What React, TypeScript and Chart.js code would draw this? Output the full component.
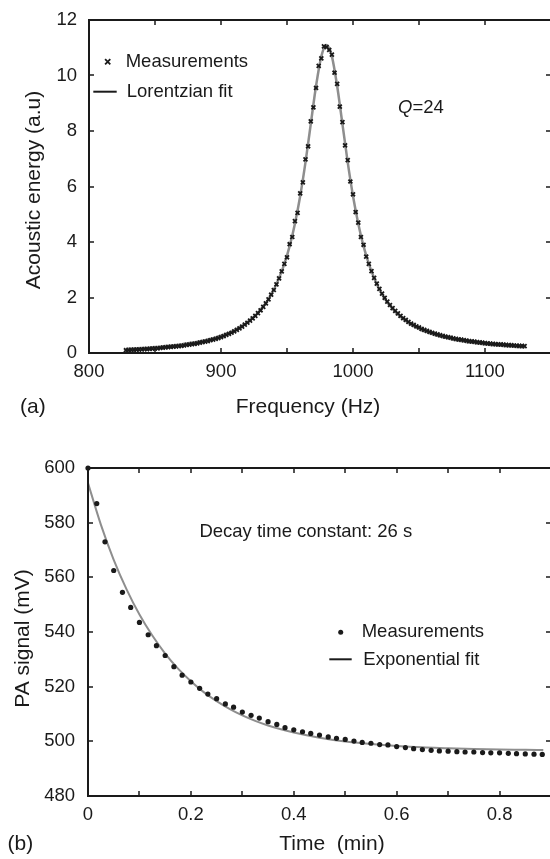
import React, { useEffect, useRef } from "react";
import { Chart, registerables } from "chart.js";

Chart.register(...registerables);

const FONT = '"Liberation Sans", Arial, Helvetica, sans-serif';
const INK = "#1a1a1a";
const FIT_GRAY = "#8e8e8e";

// ---------- (a) resonance curve ----------
const FREQ_MEAS = [
  828, 830, 832, 834, 836, 838, 840, 842, 844, 846, 848, 850, 852, 854, 856, 858, 860, 862, 864, 866,
  868, 870, 872, 874, 876, 878, 880, 882, 884, 886, 888, 890, 892, 894, 896, 898, 900, 902, 904, 906,
  908, 910, 912, 914, 916, 918, 920, 922, 924, 926, 928, 930, 932, 934, 936, 938, 940, 942, 944, 946,
  948, 950, 952, 954, 956, 958, 960, 962, 964, 966, 968, 970, 972, 974, 976, 978,
  980, 982, 984, 986, 988, 990, 992, 994, 996, 998, 1000, 1002, 1004, 1006, 1008, 1010, 1012, 1014, 1016, 1018,
  1020, 1022, 1024, 1026, 1028, 1030, 1032, 1034, 1036, 1038, 1040, 1042, 1044, 1046, 1048, 1050, 1052, 1054, 1056, 1058,
  1060, 1062, 1064, 1066, 1068, 1070, 1072, 1074, 1076, 1078, 1080, 1082, 1084, 1086, 1088, 1090, 1092, 1094, 1096, 1098,
  1100, 1102, 1104, 1106, 1108, 1110, 1112, 1114, 1116, 1118, 1120, 1122, 1124, 1126, 1128, 1130,
];
const ENERGY_MEAS = [
  0.10, 0.10, 0.11, 0.11, 0.12, 0.125, 0.13, 0.14, 0.14, 0.15,
  0.16, 0.165, 0.17, 0.18, 0.19, 0.20, 0.21, 0.22, 0.23, 0.24,
  0.25, 0.26, 0.27, 0.29, 0.30, 0.32, 0.33, 0.35, 0.37, 0.39,
  0.41, 0.43, 0.46, 0.48, 0.51, 0.54, 0.57, 0.61, 0.65, 0.69,
  0.73, 0.78, 0.83, 0.89, 0.95, 1.02, 1.09, 1.17, 1.25, 1.34,
  1.44, 1.54, 1.66, 1.79, 1.93, 2.10, 2.27, 2.47, 2.69, 2.94,
  3.21, 3.45, 3.92, 4.18, 4.75, 5.05, 5.75, 6.15, 6.98, 7.45,
  8.35, 8.85, 9.55, 10.35, 10.62, 11.05,
  11.02, 10.92, 10.75, 10.10, 9.70, 8.88, 8.32, 7.48, 6.95, 6.18,
  5.72, 5.08, 4.70, 4.18, 3.90, 3.47,
  3.21, 2.95, 2.71, 2.50, 2.31, 2.14, 1.99, 1.85, 1.73, 1.62,
  1.52, 1.43, 1.34, 1.26, 1.19, 1.12, 1.06, 1.01, 0.96, 0.92,
  0.87, 0.83, 0.80, 0.76, 0.73, 0.70, 0.67, 0.64, 0.62, 0.59,
  0.57, 0.55, 0.53, 0.51, 0.49, 0.48, 0.46, 0.45, 0.43, 0.42,
  0.41, 0.39, 0.38, 0.37, 0.36, 0.35, 0.34, 0.33, 0.32, 0.315,
  0.31, 0.30, 0.29, 0.285, 0.28, 0.27, 0.265, 0.26, 0.255, 0.25,
];
const FREQ_FIT = [
  828, 832, 836, 840, 844, 848, 852, 856, 860, 864, 868, 872, 876, 880, 884, 888, 892, 896, 900, 904,
  908, 912, 916, 920, 924, 928, 932, 936, 940, 944, 948, 952, 956, 960, 964, 968, 972, 976,
  980, 984, 988, 992, 996, 1000, 1004, 1008, 1012, 1016, 1020, 1024, 1028, 1032, 1036, 1040, 1044, 1048,
  1052, 1056, 1060, 1064, 1068, 1072, 1076, 1080, 1084, 1088, 1092, 1096, 1100, 1104, 1108, 1112, 1116,
  1120, 1124, 1128, 1130,
];
const ENERGY_FIT = [
  0.15, 0.16, 0.17, 0.18, 0.19, 0.21, 0.22, 0.24, 0.26, 0.28, 0.30, 0.33, 0.36, 0.39, 0.42, 0.46, 0.51, 0.56, 0.62, 0.69,
  0.77, 0.87, 0.98, 1.11, 1.27, 1.45, 1.68, 1.94, 2.28, 2.70, 3.21, 3.85, 4.66, 5.66, 6.87, 8.25, 9.62, 10.69,
  11.10, 10.69, 9.62, 8.25, 6.87, 5.66, 4.66, 3.85, 3.21, 2.70, 2.29, 1.96, 1.70, 1.48, 1.30, 1.15, 1.02, 0.92,
  0.82, 0.75, 0.68, 0.62, 0.57, 0.52, 0.48, 0.44, 0.41, 0.38, 0.36, 0.33, 0.31, 0.29, 0.275, 0.26, 0.24,
  0.23, 0.22, 0.207, 0.20,
];
const FREQ_TICKS = [800, 850, 900, 950, 1000, 1050, 1100, 1150];
const FREQ_LABELS = [800, 900, 1000, 1100];
const ENERGY_TICKS = [0, 2, 4, 6, 8, 10, 12];

// ---------- (b) decay curve ----------
const TIME_MEAS = [
  0, 0.017, 0.033, 0.05, 0.067, 0.083, 0.1, 0.117, 0.133, 0.15, 0.167, 0.183, 0.2, 0.217, 0.233, 0.25, 0.267, 0.283,
  0.3, 0.317, 0.333, 0.35, 0.367, 0.383, 0.4, 0.417, 0.433, 0.45, 0.467, 0.483, 0.5, 0.517, 0.533, 0.55, 0.567, 0.583,
  0.6, 0.617, 0.633, 0.65, 0.667, 0.683, 0.7, 0.717, 0.733, 0.75, 0.767, 0.783, 0.8, 0.817, 0.833, 0.85, 0.867, 0.883,
];
const SIGNAL_MEAS = [
  600, 587, 573, 562.5, 554.5, 549, 543.5, 539, 535, 531.4, 527.3, 524.2, 521.7, 519.4, 517.3, 515.6, 513.7, 512.5,
  510.7, 509.5, 508.5, 507.2, 506.2, 505, 504.2, 503.5, 502.9, 502.3, 501.6, 501.1, 500.7, 500.1, 499.6, 499.3, 498.8, 498.7,
  498.1, 497.7, 497.3, 497, 496.7, 496.5, 496.4, 496.2, 496.1, 496.1, 495.9, 495.8, 495.8, 495.6, 495.5, 495.4, 495.3, 495.2,
];
const TIME_FIT = [
  0, 0.025, 0.05, 0.075, 0.1, 0.125, 0.15, 0.175, 0.2, 0.225, 0.25, 0.275, 0.3, 0.325, 0.35, 0.375, 0.4,
  0.45, 0.5, 0.55, 0.6, 0.65, 0.7, 0.75, 0.8, 0.85, 0.885,
];
const SIGNAL_FIT = [
  594.5, 579.3, 566.4, 555.6, 546.4, 538.7, 532.1, 526.6, 522.0, 518.0, 514.7, 511.9, 509.5, 507.5, 505.8, 504.4, 503.2,
  501.3, 499.9, 499.0, 498.3, 497.8, 497.5, 497.2, 497.0, 496.9, 496.8,
];
const TIME_TICKS = [0, 0.1, 0.2, 0.3, 0.4, 0.5, 0.6, 0.7, 0.8, 0.9];
const TIME_LABELS = [0, 0.2, 0.4, 0.6, 0.8];
const SIGNAL_TICKS = [480, 500, 520, 540, 560, 580, 600];

type Part = { t: string; italic?: boolean };
type TextItem = { parts: Part[]; x: number; y: number; size: number; align?: "left" | "center"; rotate?: boolean };

function decorPlugin(cfg: {
  xTicks: number[];
  yTicks: number[];
  texts: TextItem[];
  legend: (ctx: CanvasRenderingContext2D) => void;
}) {
  return {
    id: "decor",
    afterDraw(chart: any) {
      const ctx: CanvasRenderingContext2D = chart.ctx;
      const a = chart.chartArea;
      const xs = chart.scales.x;
      const ys = chart.scales.y;
      const L = 5;
      ctx.save();
      ctx.strokeStyle = INK;
      ctx.lineWidth = 1.5;
      ctx.beginPath();
      for (const v of cfg.xTicks) {
        const px = Math.round(xs.getPixelForValue(v));
        ctx.moveTo(px, a.bottom);
        ctx.lineTo(px, a.bottom - L);
        ctx.moveTo(px, a.top);
        ctx.lineTo(px, a.top + L);
      }
      for (const v of cfg.yTicks) {
        const py = Math.round(ys.getPixelForValue(v));
        ctx.moveTo(a.left, py);
        ctx.lineTo(a.left + L, py);
        ctx.moveTo(a.right, py);
        ctx.lineTo(a.right - L, py);
      }
      ctx.stroke();
      ctx.lineWidth = 2;
      ctx.strokeRect(a.left, a.top, a.right - a.left, a.bottom - a.top);

      for (const t of cfg.texts) {
        ctx.save();
        ctx.fillStyle = INK;
        ctx.textBaseline = "alphabetic";
        ctx.textAlign = "left";
        ctx.translate(t.x, t.y);
        if (t.rotate) ctx.rotate(-Math.PI / 2);
        const fontOf = (p: Part) => `${p.italic ? "italic " : ""}${t.size}px ${FONT}`;
        let total = 0;
        for (const p of t.parts) {
          ctx.font = fontOf(p);
          total += ctx.measureText(p.t).width;
        }
        let x = t.align === "center" ? -total / 2 : 0;
        for (const p of t.parts) {
          ctx.font = fontOf(p);
          ctx.fillText(p.t, x, 0);
          x += ctx.measureText(p.t).width;
        }
        ctx.restore();
      }
      ctx.fillStyle = INK;
      ctx.strokeStyle = INK;
      cfg.legend(ctx);
      ctx.restore();
    },
  };
}

function tickFont() {
  return { family: FONT, size: 18.5 };
}

function noPadX(height: number) {
  return (s: any) => {
    s.height = height;
    s.paddingLeft = 0;
    s.paddingRight = 0;
  };
}
function noPadY(width: number) {
  return (s: any) => {
    s.width = width;
    s.paddingTop = 0;
    s.paddingBottom = 0;
  };
}

function makeTopConfig(): any {
  return {
    type: "scatter",
    data: {
      datasets: [
        {
          label: "Measurements",
          data: FREQ_MEAS.map((f, i) => ({ x: f, y: ENERGY_MEAS[i] })),
          showLine: false,
          pointStyle: "crossRot",
          pointRadius: 2.8,
          pointBorderColor: INK,
          pointBackgroundColor: INK,
          pointBorderWidth: 1.8,
          order: 0,
          clip: 6,
        },
        {
          label: "Lorentzian fit",
          data: FREQ_FIT.map((f, i) => ({ x: f, y: ENERGY_FIT[i] })),
          showLine: true,
          pointRadius: 0,
          borderColor: FIT_GRAY,
          borderWidth: 2.5,
          cubicInterpolationMode: "monotone",
          order: 1,
        },
      ],
    },
    options: {
      responsive: false,
      animation: false,
      events: [],
      layout: { autoPadding: false, padding: { top: 20, right: 1, left: 0, bottom: 0 } },
      plugins: { legend: { display: false }, tooltip: { enabled: false } },
      scales: {
        x: {
          type: "linear",
          position: "bottom",
          min: 800,
          max: 1150,
          grid: { display: false, drawTicks: false },
          border: { display: false },
          afterBuildTicks: (s: any) => {
            s.ticks = FREQ_TICKS.map((v) => ({ value: v }));
          },
          afterFit: noPadX(77),
          ticks: {
            padding: 7.5,
            color: INK,
            font: tickFont(),
            maxRotation: 0,
            autoSkip: false,
            callback: (v: any) => (FREQ_LABELS.includes(Number(v)) ? String(v) : ""),
          },
        },
        y: {
          type: "linear",
          position: "left",
          min: 0,
          max: 12,
          grid: { display: false, drawTicks: false },
          border: { display: false },
          afterBuildTicks: (s: any) => {
            s.ticks = ENERGY_TICKS.map((v) => ({ value: v }));
          },
          afterFit: noPadY(89),
          ticks: { padding: 12, color: INK, font: tickFont(), autoSkip: false },
        },
      },
    },
    plugins: [
      decorPlugin({
        xTicks: FREQ_TICKS,
        yTicks: ENERGY_TICKS,
        texts: [
          { parts: [{ t: "(a)" }], x: 20, y: 413, size: 21 },
          { parts: [{ t: "Frequency (Hz)" }], x: 308, y: 413, size: 21, align: "center" },
          { parts: [{ t: "Acoustic energy (a.u)" }], x: 39.5, y: 190, size: 21, align: "center", rotate: true },
          { parts: [{ t: "Q", italic: true }, { t: "=24" }], x: 398, y: 113, size: 18.5 },
          { parts: [{ t: "Measurements" }], x: 125.7, y: 67, size: 18.5 },
          { parts: [{ t: "Lorentzian fit" }], x: 126.7, y: 96.5, size: 18.5 },
        ],
        legend: (ctx) => {
          const cx = 107.7, cy = 61.7, r = 2.6;
          ctx.lineWidth = 1.8;
          ctx.beginPath();
          ctx.moveTo(cx - r, cy - r);
          ctx.lineTo(cx + r, cy + r);
          ctx.moveTo(cx + r, cy - r);
          ctx.lineTo(cx - r, cy + r);
          ctx.stroke();
          ctx.lineWidth = 2;
          ctx.beginPath();
          ctx.moveTo(93.3, 91.7);
          ctx.lineTo(116.7, 91.7);
          ctx.stroke();
        },
      }),
    ],
  };
}

function makeBottomConfig(): any {
  return {
    type: "scatter",
    data: {
      datasets: [
        {
          label: "Measurements",
          data: TIME_MEAS.map((t, i) => ({ x: t, y: SIGNAL_MEAS[i] })),
          showLine: false,
          pointStyle: "circle",
          pointRadius: 2.6,
          pointBorderWidth: 0,
          pointBackgroundColor: INK,
          pointBorderColor: INK,
          order: 0,
          clip: 6,
        },
        {
          label: "Exponential fit",
          data: TIME_FIT.map((t, i) => ({ x: t, y: SIGNAL_FIT[i] })),
          showLine: true,
          pointRadius: 0,
          borderColor: FIT_GRAY,
          borderWidth: 2,
          cubicInterpolationMode: "monotone",
          order: 1,
        },
      ],
    },
    options: {
      responsive: false,
      animation: false,
      events: [],
      layout: { autoPadding: false, padding: { top: 38, right: 1, left: 0, bottom: 0 } },
      plugins: { legend: { display: false }, tooltip: { enabled: false } },
      scales: {
        x: {
          type: "linear",
          position: "bottom",
          min: 0,
          max: 0.9,
          grid: { display: false, drawTicks: false },
          border: { display: false },
          afterBuildTicks: (s: any) => {
            s.ticks = TIME_TICKS.map((v) => ({ value: v }));
          },
          afterFit: noPadX(63),
          ticks: {
            padding: 8,
            color: INK,
            font: tickFont(),
            maxRotation: 0,
            autoSkip: false,
            callback: (v: any) => {
              const n = Number(v);
              const hit = TIME_LABELS.find((l) => Math.abs(l - n) < 1e-6);
              return hit === undefined ? "" : String(hit);
            },
          },
        },
        y: {
          type: "linear",
          position: "left",
          min: 480,
          max: 600,
          grid: { display: false, drawTicks: false },
          border: { display: false },
          afterBuildTicks: (s: any) => {
            s.ticks = SIGNAL_TICKS.map((v) => ({ value: v }));
          },
          afterFit: noPadY(88),
          ticks: { padding: 13, color: INK, font: tickFont(), autoSkip: false },
        },
      },
    },
    plugins: [
      decorPlugin({
        xTicks: TIME_TICKS,
        yTicks: SIGNAL_TICKS,
        texts: [
          { parts: [{ t: "(b)" }], x: 7.5, y: 420, size: 21 },
          { parts: [{ t: "Time  (min)" }], x: 332, y: 420, size: 21, align: "center" },
          { parts: [{ t: "PA signal (mV)" }], x: 29, y: 208.5, size: 21, align: "center", rotate: true },
          { parts: [{ t: "Decay time constant: 26 s" }], x: 199.4, y: 106.5, size: 18.5 },
          { parts: [{ t: "Measurements" }], x: 361.7, y: 207, size: 18.5 },
          { parts: [{ t: "Exponential fit" }], x: 363.3, y: 235, size: 18.5 },
        ],
        legend: (ctx) => {
          ctx.beginPath();
          ctx.arc(340.7, 202.3, 2.5, 0, Math.PI * 2);
          ctx.fill();
          ctx.lineWidth = 2;
          ctx.beginPath();
          ctx.moveTo(329.3, 229.3);
          ctx.lineTo(351.7, 229.3);
          ctx.stroke();
        },
      }),
    ],
  };
}

function Panel({ top, height, make }: { top: number; height: number; make: () => any }) {
  const ref = useRef<HTMLCanvasElement>(null);
  useEffect(() => {
    const chart = new Chart(ref.current as HTMLCanvasElement, make());
    return () => chart.destroy();
  }, []);
  return (
    <canvas
      ref={ref}
      width={552}
      height={height}
      style={{ position: "absolute", left: 0, top, width: 552, height, display: "block" }}
    />
  );
}

export default function App() {
  return (
    <div
      style={{
        position: "absolute",
        left: 0,
        top: 0,
        width: 550,
        height: 859,
        overflow: "hidden",
        background: "#ffffff",
      }}
    >
      <Panel top={0} height={430} make={makeTopConfig} />
      <Panel top={430} height={429} make={makeBottomConfig} />
    </div>
  );
}
